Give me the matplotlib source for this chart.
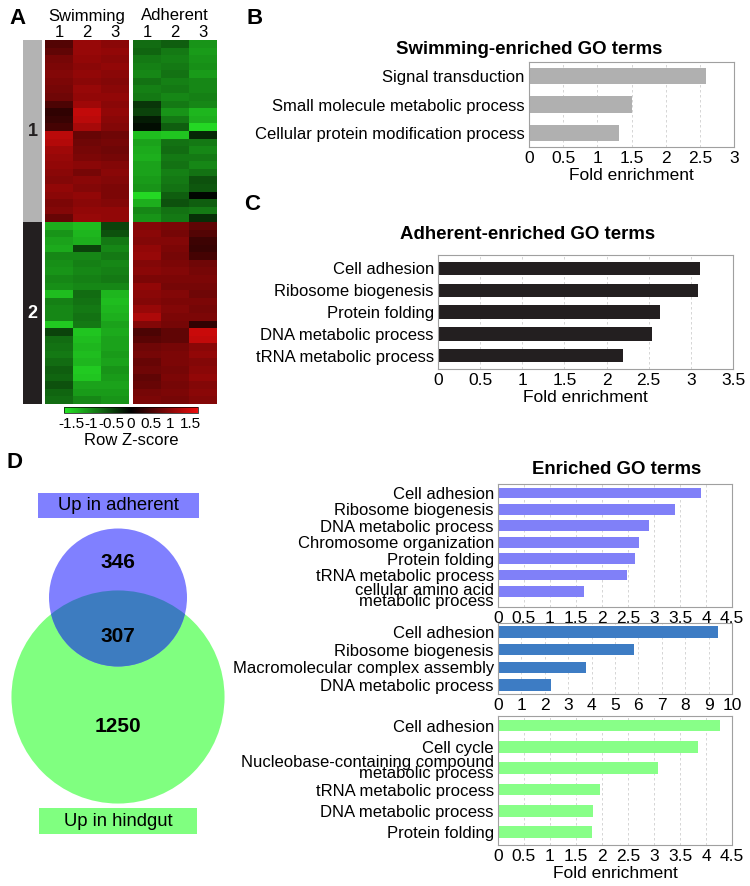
import numpy as np
import matplotlib
matplotlib.use('Agg')
import matplotlib.pyplot as plt
from matplotlib.colors import LinearSegmentedColormap, ListedColormap
from matplotlib.patches import Circle, Rectangle
from matplotlib.transforms import ScaledTranslation

plt.rcParams['font.family'] = ['Liberation Sans', 'DejaVu Sans']

# ---- datos ----
# heatmap: colunas = Swimming 1-3, Adherent 1-3 (Row Z-score)
cluster1 = [
    [0.60, 1.10, 1.00, -0.80, -0.70, -1.10],
    [0.70, 1.10, 1.05, -0.75, -0.90, -1.15],
    [0.85, 1.05, 1.00, -0.90, -0.95, -1.10],
    [0.90, 1.00, 1.05, -0.95, -0.90, -1.05],
    [0.95, 1.05, 1.00, -1.00, -0.85, -1.15],
    [0.90, 1.00, 0.95, -0.85, -0.95, -1.00],
    [0.85, 1.10, 1.00, -0.95, -0.90, -1.00],
    [0.80, 1.05, 1.05, -0.90, -1.00, -0.95],
    [0.55, 1.15, 1.00, -0.40, -0.90, -1.00],
    [0.35, 1.40, 1.05, -0.50, -1.10, -1.35],
    [0.40, 1.35, 1.00, -0.20, -0.90, -1.30],
    [0.50, 1.20, 0.95, -0.10, -0.70, -1.60],
    [1.35, 0.75, 0.80, -1.40, -1.45, -0.30],
    [1.30, 0.80, 0.85, -1.20, -0.85, -0.90],
    [1.15, 0.85, 0.80, -1.25, -0.80, -1.00],
    [1.10, 0.90, 0.85, -1.30, -0.90, -0.90],
    [1.05, 1.00, 0.95, -1.20, -0.85, -1.00],
    [1.00, 0.85, 1.00, -1.20, -0.95, -0.85],
    [0.95, 1.00, 0.95, -1.15, -0.90, -0.60],
    [1.05, 0.95, 0.90, -1.10, -0.85, -0.65],
    [1.00, 1.05, 0.90, -1.60, -0.70, -0.05],
    [0.90, 1.00, 0.95, -1.30, -0.60, -0.70],
    [0.95, 1.05, 1.05, -1.00, -0.85, -0.90],
    [0.75, 1.10, 1.05, -1.10, -0.90, -0.35],
]
cluster2 = [
    [-1.30, -1.40, -0.50, 0.95, 0.90, 0.70],
    [-1.10, -1.35, -0.60, 1.00, 0.85, 0.60],
    [-1.20, -1.30, -0.90, 0.95, 0.95, 0.45],
    [-1.25, -0.50, -1.00, 1.05, 0.90, 0.40],
    [-1.00, -1.00, -0.90, 1.10, 0.85, 0.50],
    [-1.05, -0.95, -1.00, 0.95, 0.90, 0.80],
    [-1.10, -1.00, -0.95, 1.00, 0.95, 0.85],
    [-1.00, -0.95, -0.90, 0.90, 0.90, 0.90],
    [-1.05, -1.00, -1.00, 1.05, 0.85, 0.85],
    [-1.40, -0.80, -1.35, 1.00, 0.95, 0.80],
    [-0.95, -0.85, -1.40, 0.95, 0.90, 0.90],
    [-1.00, -0.90, -1.35, 1.10, 0.95, 0.85],
    [-1.00, -0.85, -1.30, 1.25, 0.90, 0.90],
    [-1.50, -0.90, -1.20, 0.95, 0.85, 0.35],
    [-0.50, -1.45, -1.25, 0.55, 0.70, 1.45],
    [-0.80, -1.40, -1.20, 0.65, 0.70, 1.40],
    [-0.85, -1.35, -1.20, 0.80, 0.85, 1.00],
    [-0.90, -1.40, -1.15, 0.85, 0.90, 1.05],
    [-0.80, -1.35, -1.20, 0.75, 0.90, 0.95],
    [-0.70, -1.50, -1.10, 0.80, 0.85, 1.00],
    [-0.75, -1.45, -1.15, 0.70, 0.90, 1.05],
    [-0.60, -1.20, -1.20, 0.75, 0.85, 0.95],
    [-0.75, -1.15, -1.15, 0.85, 0.90, 1.00],
    [-0.80, -1.00, -1.10, 0.90, 0.85, 0.95],
]
col_labels = ['1', '2', '3']
cbar_ticks = [-1.5, -1, -0.5, 0, 0.5, 1, 1.5]

swim_terms = ['Signal transduction', 'Small molecule metabolic process',
              'Cellular protein modification process']
swim_vals = [2.59, 1.51, 1.32]

adh_terms = ['Cell adhesion', 'Ribosome biogenesis', 'Protein folding',
             'DNA metabolic process', 'tRNA metabolic process']
adh_vals = [3.11, 3.08, 2.63, 2.54, 2.19]

up_adh_terms = ['Cell adhesion', 'Ribosome biogenesis', 'DNA metabolic process',
                'Chromosome organization', 'Protein folding', 'tRNA metabolic process',
                'cellular amino acid\nmetabolic process']
up_adh_vals = [3.90, 3.41, 2.91, 2.72, 2.64, 2.49, 1.66]

both_terms = ['Cell adhesion', 'Ribosome biogenesis',
              'Macromolecular complex assembly', 'DNA metabolic process']
both_vals = [9.39, 5.83, 3.75, 2.25]

hind_terms = ['Cell adhesion', 'Cell cycle',
              'Nucleobase-containing compound\nmetabolic process',
              'tRNA metabolic process', 'DNA metabolic process', 'Protein folding']
hind_vals = [4.27, 3.84, 3.07, 1.96, 1.82, 1.80]

venn_counts = [346, 307, 1250]  # so adherent, ambos, so hindgut

# ---- figura ----
W, H = 750, 886
fig = plt.figure(figsize=(W / 100, H / 100), dpi=100)


def rect(x0, y0, x1, y1):
    # pixels (topo-esquerda) -> fracao da figura
    return [x0 / W, 1 - y1 / H, (x1 - x0) / W, (y1 - y0) / H]


# ---- A: heatmap ----
cmap = LinearSegmentedColormap.from_list(
    'gbr', [(0.15, 0.9, 0.15), (0, 0, 0), (0.92, 0.05, 0.05)])
data = np.array(cluster1 + cluster2)
vmin, vmax = -1.7, 1.7

for j, (name, x0, x1) in enumerate([('Swimming', 45, 129), ('Adherent', 133, 217)]):
    ax = fig.add_axes(rect(x0, 40, x1, 404))
    ax.imshow(data[:, 3 * j:3 * j + 3], cmap=cmap, vmin=vmin, vmax=vmax,
              aspect='auto', interpolation='nearest')
    ax.xaxis.tick_top()
    ax.set_xticks([0, 1, 2], col_labels)
    ax.set_yticks([])
    ax.tick_params(length=0, pad=0, labelsize=12)
    for s in ax.spines.values():
        s.set_visible(False)
    ax.text(0.5, 1 + 24 / 364, name, transform=ax.transAxes,
            ha='center', va='center', fontsize=12)

clusters = np.array([1] * len(cluster1) + [2] * len(cluster2))[:, None]
axc = fig.add_axes(rect(23, 40, 42, 404))
axc.imshow(clusters, cmap=ListedColormap(['#b3b3b3', '#231f20']),
           aspect='auto', interpolation='nearest')
axc.axis('off')
axc.text(0, (len(cluster1) - 1) / 2, '1', ha='center', va='center',
         fontsize=13, fontweight='bold', color='#231f20')
axc.text(0, len(cluster1) + (len(cluster2) - 1) / 2, '2', ha='center', va='center',
         fontsize=13, fontweight='bold', color='white')

cax = fig.add_axes(rect(64, 407, 198, 413))
sm = plt.cm.ScalarMappable(cmap=cmap, norm=plt.Normalize(vmin, vmax))
cb = fig.colorbar(sm, cax=cax, orientation='horizontal')
cb.set_ticks(cbar_ticks, labels=[f'{t:g}' for t in cbar_ticks])
cb.ax.tick_params(length=0, pad=3, labelsize=11)
cb.outline.set_linewidth(0.5)
cb.set_label('Row Z-score', fontsize=12, labelpad=1)

# ---- barras ----


def bar_panel(box, terms, vals, color, xmax, step, height, ylim, xlabel=None, shift=0):
    ax = fig.add_axes(rect(*box))
    y = np.arange(len(terms))
    ax.barh(y, vals, height=height, color=color, zorder=2)
    ax.set_xlim(0, xmax)
    ax.set_ylim(*ylim)
    ax.set_yticks(y, terms)
    ticks = np.arange(0, xmax + step / 2, step)
    ax.set_xticks(ticks, [f'{t:g}' for t in ticks])
    ax.xaxis.grid(True, ls=(0, (3, 3)), color='#cfcfcf', lw=0.6)
    ax.set_axisbelow(True)
    ax.tick_params(length=0, labelsize=12, pad=3)
    ax.tick_params(axis='x', labelsize=12.5)
    for s in ax.spines.values():
        s.set_color('#a0a0a0')
        s.set_linewidth(0.8)
    if xlabel:
        ax.set_xlabel(xlabel, fontsize=12.5, labelpad=1)
    # rotulos de duas linhas: mais apertados (e, se preciso, um pouco abaixo)
    desloc = ScaledTranslation(0, -shift / 72, fig.dpi_scale_trans)
    for lbl in ax.get_yticklabels():
        if '\n' in lbl.get_text():
            lbl.set_linespacing(0.68)
            if shift:
                lbl.set_transform(lbl.get_transform() + desloc)
    return ax


title_kw = dict(ha='center', va='center', fontsize=13.4, fontweight='bold')

bar_panel((529, 62, 734, 147), swim_terms, swim_vals, '#b0b0b0', 3, 0.5, 0.58,
          (2.5, -0.5), 'Fold enrichment')
fig.text(529 / W, 1 - 49 / H, 'Swimming-enriched GO terms', **title_kw)

bar_panel((438, 255, 733, 369), adh_terms, adh_vals, '#231f20', 3.5, 0.5, 0.6,
          (4.6, -0.6), 'Fold enrichment')
fig.text(528 / W, 1 - 234 / H, 'Adherent-enriched GO terms', **title_kw)

bar_panel((498, 484, 732, 607), up_adh_terms, up_adh_vals, '#8080f8', 4.5, 0.5, 0.65,
          (len(up_adh_terms) - 0.05, -0.55), shift=3.5)
fig.text(617 / W, 1 - 470 / H, 'Enriched GO terms', **title_kw)
bar_panel((498, 623, 732, 694), both_terms, both_vals, '#3d7cc4', 10, 1, 0.64,
          (3.5, -0.5))
bar_panel((498, 716, 732, 845), hind_terms, hind_vals, '#88ff88', 4.5, 0.5, 0.55,
          (5.6, -0.45), 'Fold enrichment')

# ---- D: Venn ----
axv = fig.add_axes(rect(0, 450, 240, 886))
axv.set_xlim(0, 240)
axv.set_ylim(886, 450)
axv.axis('off')
k = 2.7
r_adh = k * np.sqrt(venn_counts[0] + venn_counts[1])
r_hind = k * np.sqrt(venn_counts[2] + venn_counts[1])
green = Circle((118, 697), r_hind, color='#80ff80', lw=0)
axv.add_patch(green)
axv.add_patch(Circle((118, 597.5), r_adh, color='#8080ff', lw=0))
over = Circle((118, 597.5), r_adh, color='#3d7cc0', lw=0)
axv.add_patch(over)
over.set_clip_path(green)
for v, yy in zip(venn_counts, [562, 637, 726]):
    axv.text(118, yy, str(v), ha='center', va='center', fontsize=15, fontweight='bold')
axv.add_patch(Rectangle((38, 493), 161, 25, color='#8080ff', lw=0))
axv.text(118.5, 505.5, 'Up in adherent', ha='center', va='center', fontsize=13.3)
axv.add_patch(Rectangle((39, 808), 158, 26, color='#80ff80', lw=0))
axv.text(118, 821, 'Up in hindgut', ha='center', va='center', fontsize=13.3)

# ---- letras dos paineis ----
for lt, x, y in [('A', 17, 18), ('B', 255, 18), ('C', 252, 204), ('D', 15, 463)]:
    fig.text(x / W, 1 - y / H, lt, ha='center', va='center', fontsize=16, fontweight='bold')

fig.savefig('out.png', dpi=100)
